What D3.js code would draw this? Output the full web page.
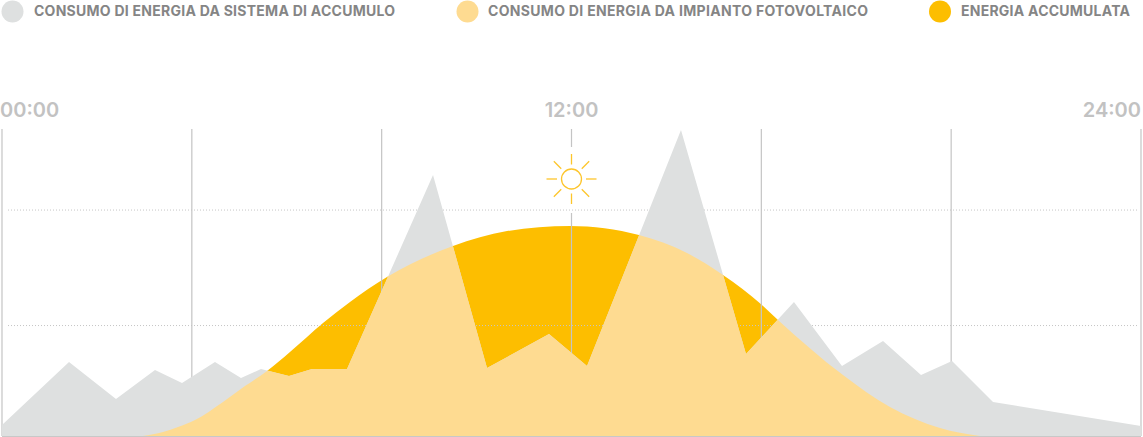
<!DOCTYPE html>
<html>
<head>
<meta charset="utf-8">
<script src="https://cdn.jsdelivr.net/npm/d3@7"></script>
<style>
    html, body { margin: 0; padding: 0; background: #fff; }
    svg { display: block; }
</style>
</head>
<body>
<div id="container"></div>
<script>
// data: hour of day, power in kW
const consumptionHours = [0, 1.412, 2.402, 3.224, 3.793, 4.488, 5.036, 5.457, 6.047, 6.532, 7.27, 9.082, 10.22, 11.526, 12.327, 14.307, 15.677, 16.688, 17.7, 18.564, 19.365, 20.018, 20.882, 24];
const consumptionValues = [0.095, 0.641, 0.32, 0.572, 0.459, 0.641, 0.502, 0.58, 0.52, 0.58, 0.58, 2.26, 0.589, 0.883, 0.606, 2.65, 0.71, 1.16, 0.606, 0.823, 0.528, 0.65, 0.294, 0.087];
const solarHours = [2.971, 3.392, 3.709, 4.067, 4.657, 5.12, 5.584, 6.068, 6.764, 7.333, 8.112, 9.503, 10.641, 11.968, 13.422, 14.434, 15.192, 16.014, 16.351, 17.721, 18.711, 19.765, 20.608];
const solarValues = [0, 0.035, 0.078, 0.139, 0.295, 0.433, 0.563, 0.727, 0.978, 1.161, 1.377, 1.645, 1.775, 1.819, 1.741, 1.585, 1.394, 1.134, 1.005, 0.528, 0.251, 0.069, 0];
const gridHours = [0, 4, 8, 12, 16, 20, 24];
const gridValues = [0.961, 1.961];
const timeHours = [0, 12, 24];
const timeLabels = ["00:00", "12:00", "24:00"];
const legendLabels = [
    "CONSUMO DI ENERGIA DA SISTEMA DI ACCUMULO",
    "CONSUMO DI ENERGIA DA IMPIANTO FOTOVOLTAICO",
    "ENERGIA ACCUMULATA",
];

const WIDTH = 1143;
const HEIGHT = 437;
const GOLD = "#fdbe00";
const LIGHT = "#fedb91";
const GREY = "#dee0e0";
const LEGEND_COLORS = [GREY, LIGHT, GOLD];
const LEGEND_CIRCLE_X = [12.5, 467.5, 940];
const LEGEND_TEXT_X = [34, 488, 961];
const LEGEND_TEXT_W = [361, 380, 169];

const x = d3.scaleLinear().domain([0, 24]).range([2, 1141]);
const y = d3.scaleLinear().domain([0, 2.65]).range([436, 130]);

const svg = d3
    .select("#container")
    .append("svg")
    .attr("width", WIDTH)
    .attr("height", HEIGHT);

const consumption = consumptionHours.map((h, i) => [h, consumptionValues[i]]);
const solar = solarHours.map((h, i) => [h, solarValues[i]]);

const consumptionArea = d3
    .area()
    .x((d) => x(d[0]))
    .y0(y(0))
    .y1((d) => y(d[1]));

const solarArea = d3
    .area()
    .curve(d3.curveMonotoneX)
    .x((d) => x(d[0]))
    .y0(y(0))
    .y1((d) => y(d[1]));

// the light area is the part of the solar bell under the consumption line
svg.append("clipPath")
    .attr("id", "under-consumption")
    .append("path")
    .attr("d", consumptionArea(consumption));

svg.append("path").attr("d", solarArea(solar)).attr("fill", GOLD);

// grid sits above the gold but below grey and light areas
svg.selectAll(".dotted")
    .data(gridValues)
    .join("line")
    .attr("class", "dotted")
    .attr("x1", 8)
    .attr("x2", 1137)
    .attr("y1", (d) => y(d) + 0.5)
    .attr("y2", (d) => y(d) + 0.5)
    .attr("stroke", "#c6c6c6")
    .attr("stroke-dasharray", "1 2");

svg.selectAll(".hour")
    .data(gridHours)
    .join("line")
    .attr("class", "hour")
    .attr("x1", (d) => x(d))
    .attr("x2", (d) => x(d))
    .attr("y1", 129)
    .attr("y2", (d) => (d === 12 ? 147 : y(0)))
    .attr("stroke", "#c4c4c4")
    .attr("stroke-width", 1.2);

svg.append("line")
    .attr("x1", x(12))
    .attr("x2", x(12))
    .attr("y1", 213)
    .attr("y2", y(0))
    .attr("stroke", "#c4c4c4")
    .attr("stroke-width", 1.2);

svg.append("path").attr("d", consumptionArea(consumption)).attr("fill", GREY);

svg.append("path")
    .attr("d", solarArea(solar))
    .attr("fill", LIGHT)
    .attr("clip-path", "url(#under-consumption)");

// baseline
svg.append("line")
    .attr("x1", x(0))
    .attr("x2", x(24))
    .attr("y1", y(0) + 0.5)
    .attr("y2", y(0) + 0.5)
    .attr("stroke", "#c8c8c8");

// sun icon
const sun = svg.append("g").attr("transform", `translate(${x(12)},179)`);
sun.append("circle")
    .attr("r", 10)
    .attr("fill", "none")
    .attr("stroke", "#fdc52b")
    .attr("stroke-width", 1.3);
sun.selectAll("line")
    .data(d3.range(8))
    .join("line")
    .attr("x1", (d) => 14.5 * Math.cos((d * Math.PI) / 4))
    .attr("y1", (d) => 14.5 * Math.sin((d * Math.PI) / 4))
    .attr("x2", (d) => 25 * Math.cos((d * Math.PI) / 4))
    .attr("y2", (d) => 25 * Math.sin((d * Math.PI) / 4))
    .attr("stroke", "#fdc52b")
    .attr("stroke-width", 1.3);

// time labels
svg.selectAll(".time")
    .data(timeLabels)
    .join("text")
    .attr("class", "time")
    .attr("x", (d, i) => x(timeHours[i]))
    .attr("y", 117)
    .attr("text-anchor", (d, i) => (i === 0 ? "start" : i === 2 ? "end" : "middle"))
    .attr("dx", (d, i) => (i === 0 ? -2 : 0))
    .attr("font-family", "Inter")
    .attr("font-weight", 600)
    .attr("font-size", 20)
    .attr("fill", "#c2c2c2")
    .text((d) => d);

// legend
const legend = svg
    .selectAll(".legend")
    .data(legendLabels)
    .join("g")
    .attr("class", "legend");

legend
    .append("circle")
    .attr("cx", (d, i) => LEGEND_CIRCLE_X[i])
    .attr("cy", 11.5)
    .attr("r", 11)
    .attr("fill", (d, i) => LEGEND_COLORS[i]);

legend
    .append("text")
    .attr("x", (d, i) => LEGEND_TEXT_X[i])
    .attr("y", 16)
    .attr("textLength", (d, i) => LEGEND_TEXT_W[i])
    .attr("font-family", "Inter")
    .attr("font-weight", 700)
    .attr("font-size", 14)
    .attr("fill", "#858585")
    .text((d) => d);
</script>
</body>
</html>
